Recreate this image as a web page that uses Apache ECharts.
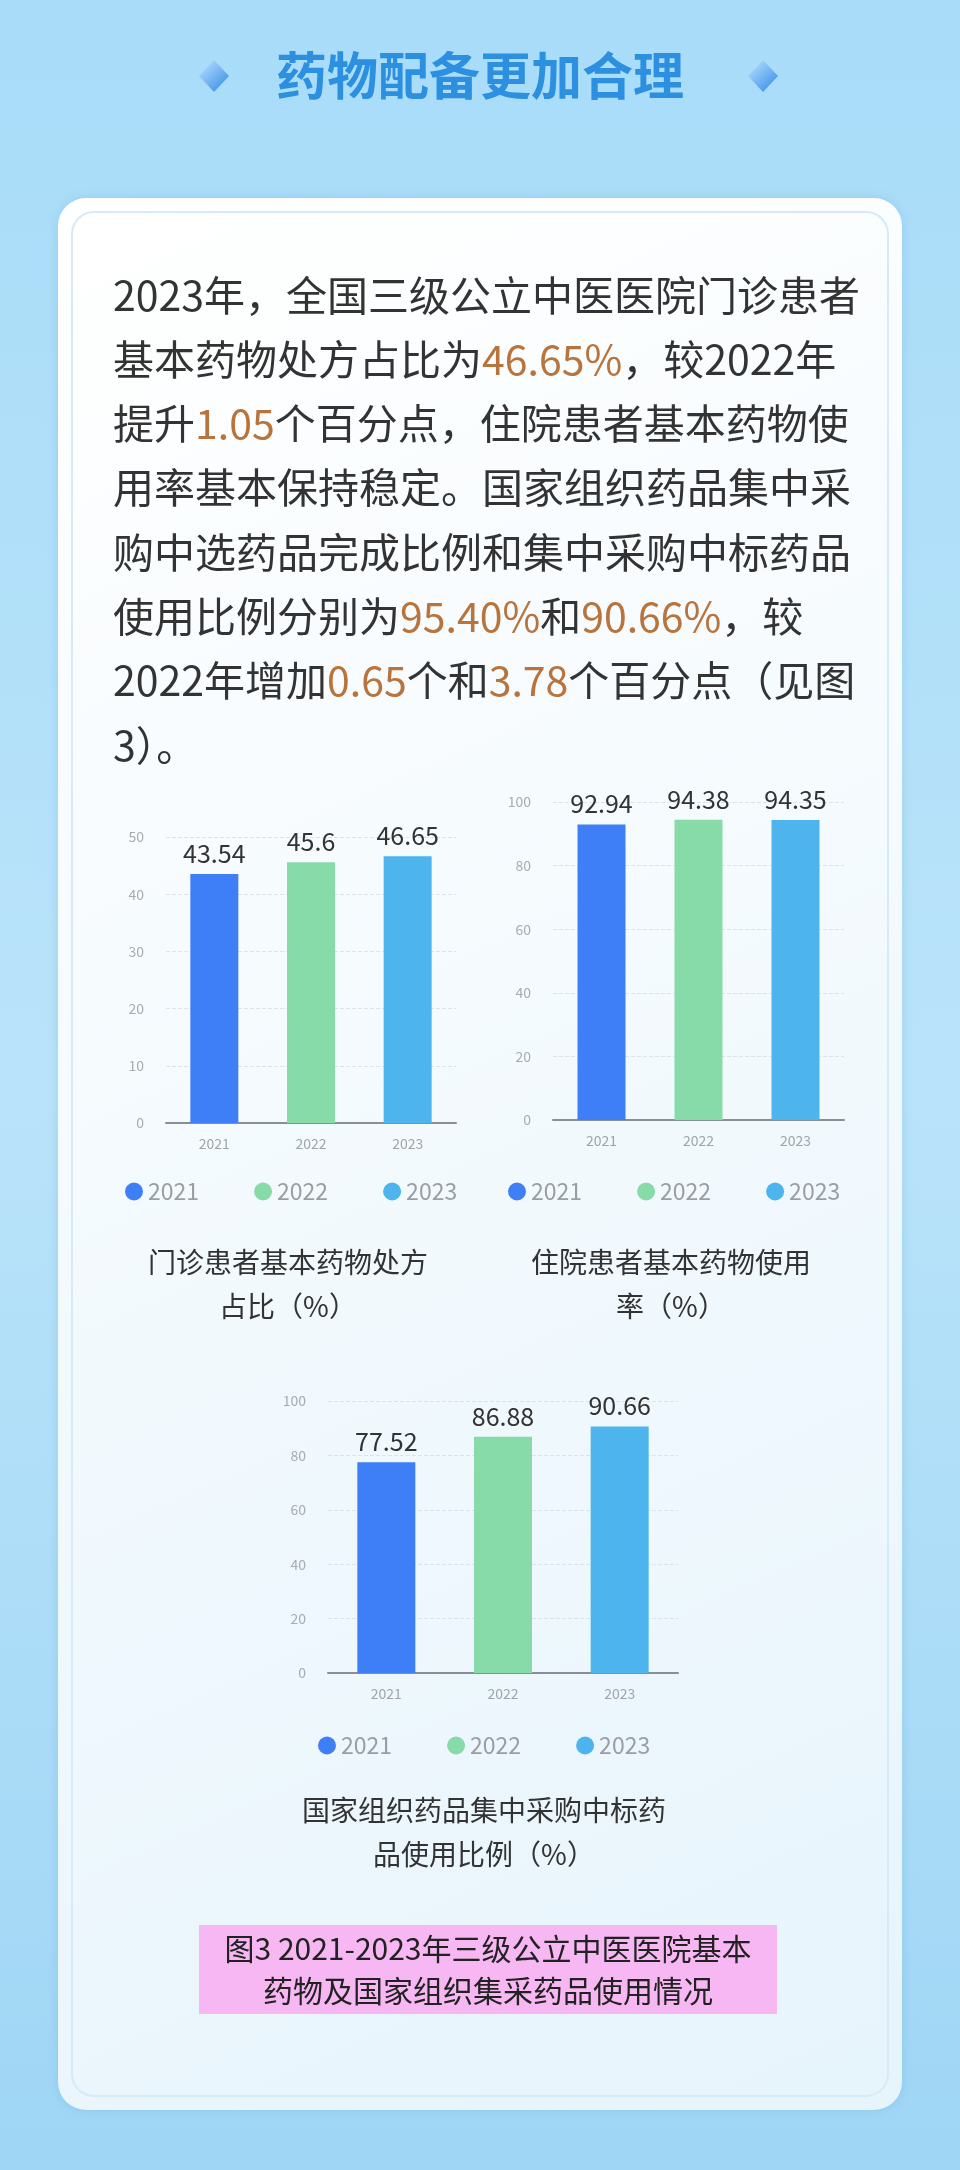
<!DOCTYPE html>
<html>
<head>
<meta charset="utf-8">
<script src="https://cdn.jsdelivr.net/npm/echarts@6/dist/echarts.min.js"></script>
<style>
  html, body { margin: 0; padding: 0; }
  #main { width: 960px; height: 2170px; }
</style>
</head>
<body>
<div id="main"></div>
<script>
var years = ['2021', '2022', '2023'];
var outpatientShare = [43.54, 45.6, 46.65];
var inpatientRate = [92.94, 94.38, 94.35];
var procurementRate = [77.52, 86.88, 90.66];
var yearColors = ['#3e7ef7', '#86dba8', '#4db4ee'];
var chartTitles = [
    ['门诊患者基本药物处方', '占比（%）'],
    ['住院患者基本药物使用', '率（%）'],
    ['国家组织药品集中采购中标药', '品使用比例（%）']
];

var FONT = '"Noto Sans CJK SC", "Noto Sans", sans-serif';
var chart = echarts.init(document.getElementById('main'));

// paragraph lines, {o|...} marks the orange numbers
var paraLines = [
    '2023年，全国三级公立中医医院门诊患者',
    '基本药物处方占比为{o|46.65%}，较2022年',
    '提升{o|1.05}个百分点，住院患者基本药物使',
    '用率基本保持稳定。国家组织药品集中采',
    '购中选药品完成比例和集中采购中标药品',
    '使用比例分别为{o|95.40%}和{o|90.66%}，较',
    '2022年增加{o|0.65}个和{o|3.78}个百分点（见图',
    '3）。'
];

var grids = [
    {left: 166, top: 837, width: 290, height: 286, max: 50, interval: 10, data: outpatientShare, legendX: 120, legendY: 1175, titleX: 288, titleY: 1284},
    {left: 553, top: 802, width: 291, height: 318, max: 100, interval: 20, data: inpatientRate, legendX: 503, legendY: 1175, titleX: 671, titleY: 1284},
    {left: 328, top: 1401, width: 350, height: 272, max: 100, interval: 20, data: procurementRate, legendX: 313, legendY: 1729, titleX: 484, titleY: 1832}
];

var option = {
    backgroundColor: new echarts.graphic.LinearGradient(0, 0, 0, 1, [
        {offset: 0, color: '#a8dcf8'},
        {offset: 0.5, color: '#b9e3fa'},
        {offset: 1, color: '#9fd6f5'}
    ]),
    textStyle: {fontFamily: FONT},
    grid: [], xAxis: [], yAxis: [], series: [], legend: [],
    graphic: []
};

var g = option.graphic;
// card
g.push({type: 'rect', shape: {x: 58, y: 198, width: 844, height: 1912, r: 28}, z: -10,
    style: {fill: new echarts.graphic.LinearGradient(0, 0, 1, 1, [
        {offset: 0, color: '#ffffff'}, {offset: 1, color: '#e6f4fc'}]), shadowBlur: 12, shadowColor: 'rgba(80,150,210,0.25)'}});
g.push({type: 'rect', shape: {x: 72, y: 212, width: 816, height: 1884, r: 22}, z: -9,
    style: {fill: 'none', stroke: '#d6ebf7', lineWidth: 2}});
// title
g.push({type: 'text', x: 480, y: 76, style: {text: '药物配备更加合理', font: 'bold 51px ' + FONT, fill: '#2c8fdf', align: 'center', verticalAlign: 'middle'}});
[214, 763].forEach(function (cx) {
    g.push({type: 'polygon', shape: {points: [[cx, 60], [cx + 15, 76], [cx, 92], [cx - 15, 76]]},
        style: {fill: new echarts.graphic.LinearGradient(0, 0, 1, 1, [{offset: 0, color: '#bfe6ff'}, {offset: 1, color: '#2f86e6'}])}});
});
// paragraph
paraLines.forEach(function (line, i) {
    g.push({type: 'text', x: 113, y: 295 + i * 64.3, style: {
        text: line, font: '41px ' + FONT, fill: '#333333', verticalAlign: 'middle',
        rich: {o: {fill: '#b8743c', font: '41px ' + FONT, verticalAlign: 'middle'}}
    }});
});
// caption
g.push({type: 'rect', shape: {x: 199, y: 1925, width: 578, height: 89}, style: {fill: '#f6b7f2'}});
g.push({type: 'text', x: 488, y: 1970, style: {
    text: '图3 2021-2023年三级公立中医医院基本\n药物及国家组织集采药品使用情况',
    font: '30px ' + FONT, fill: '#222', align: 'center', verticalAlign: 'middle', lineHeight: 42}});

grids.forEach(function (gr, gi) {
    option.grid.push({left: gr.left, top: gr.top, width: gr.width, height: gr.height});
    option.xAxis.push({type: 'category', gridIndex: gi, data: years,
        axisLine: {lineStyle: {color: '#8a8f96', width: 2}}, axisTick: {show: false},
        axisLabel: {color: '#a0a4a8', fontSize: 14, margin: 14}});
    option.yAxis.push({type: 'value', gridIndex: gi, min: 0, max: gr.max, interval: gr.interval,
        axisLine: {show: false}, axisTick: {show: false},
        axisLabel: {color: '#a8acb0', fontSize: 14, margin: 22},
        splitLine: {lineStyle: {type: 'dashed', color: '#dde3e8'}}});
    option.legend.push({left: gr.legendX, top: gr.legendY, itemGap: 55,
        icon: 'circle', itemWidth: 18, itemHeight: 18,
        textStyle: {color: '#9a9ea3', fontSize: 23, fontFamily: FONT},
        data: years.map(function (y) { return {name: y}; })});
    years.forEach(function (y, yi) {
        option.series.push({
            type: 'bar', name: y, xAxisIndex: gi, yAxisIndex: gi, stack: 's' + gi,
            barWidth: gi === 2 ? 58 : 48,
            itemStyle: {color: yearColors[yi]},
            label: {show: true, position: 'top', color: '#333', fontSize: 25, distance: 8},
            data: years.map(function (c, ci) { return ci === yi ? gr.data[yi] : null; })
        });
    });
    g.push({type: 'text', x: gr.titleX, y: gr.titleY, style: {
        text: chartTitles[gi].join('\n'), font: '28px ' + FONT, fill: '#333',
        align: 'center', verticalAlign: 'middle', lineHeight: 44}});
});

chart.setOption(option);
</script>
</body>
</html>
